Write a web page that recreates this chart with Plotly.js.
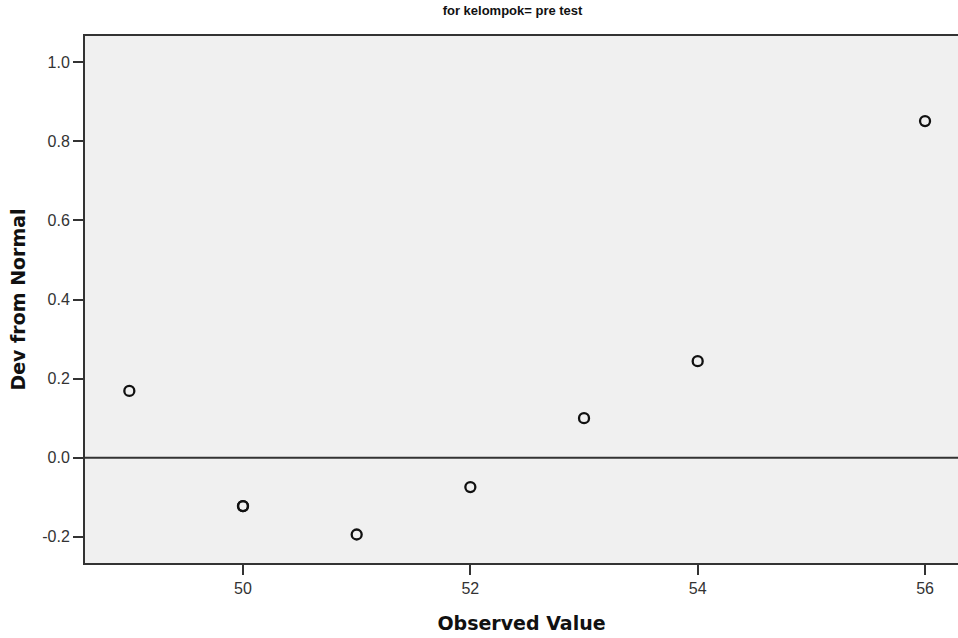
<!DOCTYPE html>
<html><head><meta charset="utf-8">
<script src="https://cdn.plot.ly/plotly-3.0.1.min.js"></script>
<style>body{margin:0;padding:0;background:#fff}#chart{width:958px;height:638px}</style>
</head><body><div id="chart"></div>
<script>
var observed = [49, 50, 50, 51, 52, 53, 54, 56];
var devFromNormal = [0.169, -0.122, -0.122, -0.194, -0.074, 0.100, 0.244, 0.851];
var titleText = 'for kelompok= pre test';
var xTitle = 'Observed Value';
var yTitle = 'Dev from Normal';
var xTicks = [50, 52, 54, 56];
var xTickText = ['50', '52', '54', '56'];
var yTicks = [-0.2, 0.0, 0.2, 0.4, 0.6, 0.8, 1.0];
var yTickText = ['-0.2', '0.0', '0.2', '0.4', '0.6', '0.8', '1.0'];

var trace = {
  x: observed, y: devFromNormal, type: 'scatter', mode: 'markers',
  marker: {symbol: 'circle-open', size: 10, color: '#111', line: {width: 2.3, color: '#111'}},
  hoverinfo: 'none', showlegend: false
};
var layout = {
  width: 958, height: 638,
  margin: {l: 85, r: 0, t: 36, b: 75},
  paper_bgcolor: '#ffffff', plot_bgcolor: '#f0f0f0',
  font: {family: 'Liberation Sans, Arial, sans-serif', color: '#333', size: 16},
  title: {text: '<b>' + titleText + '</b>', x: 0.535, xanchor: 'center', y: 0.99, yanchor: 'top', font: {size: 13, color: '#111'}},
  xaxis: {
    range: [48.61, 56.29], tickvals: xTicks, ticktext: xTickText, ticks: 'outside', ticklen: 10, tickwidth: 2, tickcolor: '#333',
    showline: true, linecolor: '#333', linewidth: 2, mirror: true, showgrid: false, zeroline: false,
    tickfont: {size: 16, color: '#333'},
    title: {text: '<b>' + xTitle + '</b>', font: {family: 'DejaVu Sans, sans-serif', size: 19, color: '#111'}, standoff: 20}
  },
  yaxis: {
    range: [-0.266, 1.066], tickvals: yTicks, ticktext: yTickText, ticks: 'outside', ticklen: 10, tickwidth: 2, tickcolor: '#333',
    showline: true, linecolor: '#333', linewidth: 2, mirror: true, showgrid: false, zeroline: false,
    tickfont: {size: 16, color: '#333'},
    title: {text: '<b>' + yTitle + '</b>', font: {family: 'DejaVu Sans, sans-serif', size: 19, color: '#111'}, standoff: 12}
  },
  shapes: [{type: 'line', xref: 'paper', x0: 0, x1: 1, yref: 'y', y0: 0, y1: 0, line: {color: '#333', width: 2}}]
};
Plotly.newPlot('chart', [trace], layout, {displayModeBar: false, staticPlot: true});
</script></body></html>
